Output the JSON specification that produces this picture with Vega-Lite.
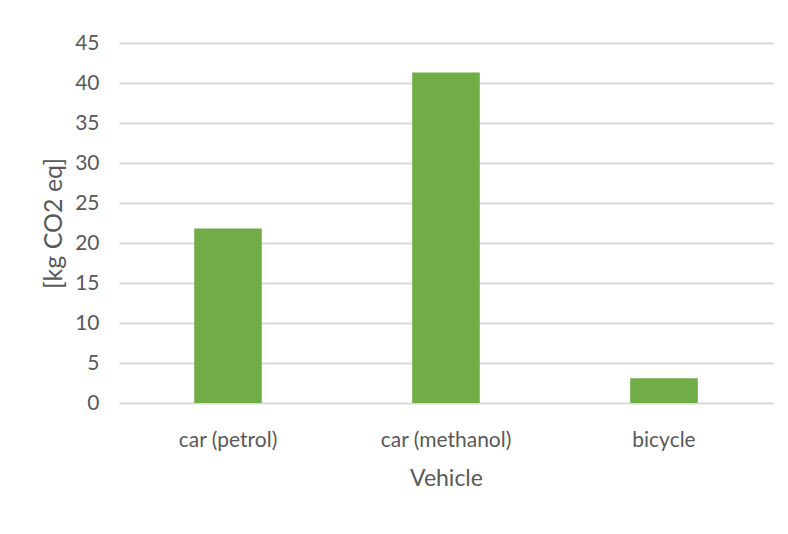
{
  "$schema": "https://vega.github.io/schema/vega-lite/v6.json",
  "width": 654,
  "height": 360,
  "autosize": {"type": "none"},
  "padding": {"left": 119, "top": 43, "right": 15, "bottom": 131},
  "background": "white",
  "data": {
    "values": [
      {"Vehicle": "car (petrol)", "emissions": 21.8},
      {"Vehicle": "car (methanol)", "emissions": 41.3},
      {"Vehicle": "bicycle", "emissions": 3.1}
    ]
  },
  "mark": {"type": "bar", "color": "#70AD47"},
  "encoding": {
    "x": {
      "field": "Vehicle",
      "type": "nominal",
      "sort": null,
      "title": "Vehicle",
      "scale": {"paddingInner": 0.69, "paddingOuter": 0.345},
      "axis": {
        "labelAngle": 0,
        "labelPadding": 26,
        "titlePadding": 17,
        "grid": false,
        "ticks": false,
        "domain": false
      }
    },
    "y": {
      "field": "emissions",
      "type": "quantitative",
      "title": "[kg CO2 eq]",
      "scale": {"domain": [0, 45], "nice": false},
      "axis": {
        "values": [0, 5, 10, 15, 20, 25, 30, 35, 40, 45],
        "labelPadding": 20,
        "titlePadding": 8,
        "titleFontSize": 25,
        "grid": true,
        "gridColor": "#D9D9D9",
        "gridWidth": 2,
        "ticks": false,
        "domain": false
      }
    }
  },
  "config": {
    "view": {"stroke": null},
    "font": "Lato",
    "axis": {
      "labelFont": "Lato",
      "labelFontSize": 21,
      "labelColor": "#595959",
      "titleFont": "Lato",
      "titleFontSize": 23,
      "titleFontWeight": "normal",
      "titleColor": "#595959"
    }
  }
}
